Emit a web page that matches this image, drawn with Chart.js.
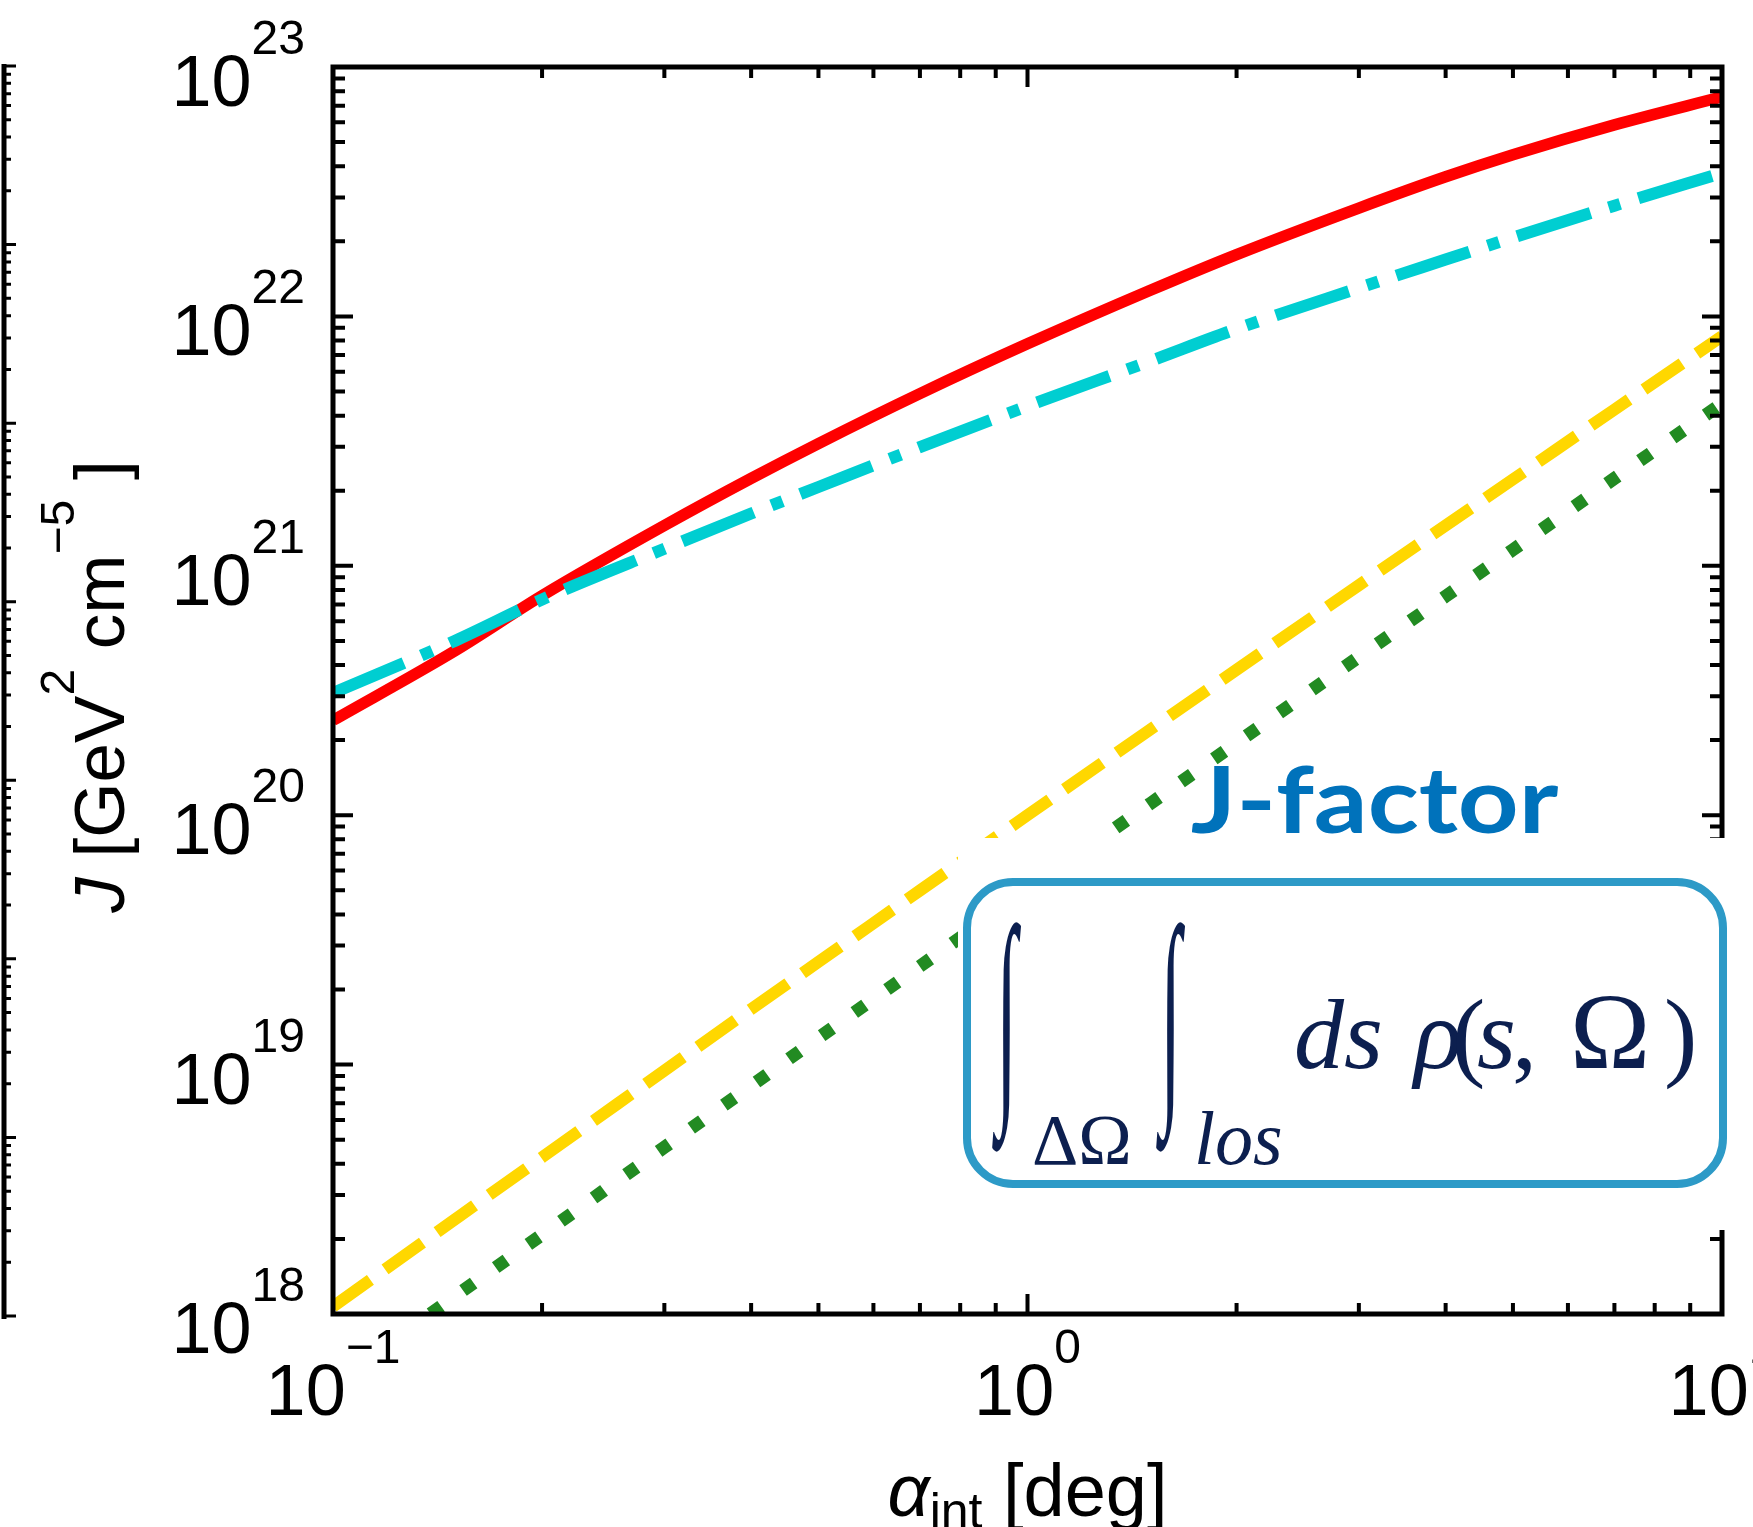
<!DOCTYPE html>
<html lang="en">
<head>
<meta charset="UTF-8">
<title>J-factor vs integration angle</title>
<script src="https://cdn.jsdelivr.net/npm/chart.js"></script>
<style>
  html, body { margin: 0; padding: 0; background: #fff; overflow: hidden; }
  #c { display: block; }
</style>
</head>
<body>
<canvas id="c" width="1753" height="1527"></canvas>
<script>
// alpha_int [deg] grid and J [GeV^2 cm^-5]
const alphaGrid = [0.1, 0.15, 0.2, 0.3, 0.4, 0.5, 0.7, 1, 1.5, 2, 3, 4, 5, 7, 10];

const jRed    = [2.40e20, 4.57e20, 7.59e20, 1.45e21, 2.24e21, 3.09e21, 4.90e21, 7.76e21, 1.27e22, 1.77e22, 2.72e22, 3.63e22, 4.45e22, 5.86e22, 7.59e22];
const jCyan   = [3.09e20, 5.01e20, 7.33e20, 1.17e21, 1.62e21, 2.07e21, 2.99e21, 4.37e21, 6.61e21, 8.91e21, 1.30e22, 1.69e22, 2.07e22, 2.78e22, 3.76e22];
const jYellow = [1.07e18, 2.40e18, 4.25e18, 9.46e18, 1.67e19, 2.58e19, 4.99e19, 1.00e20, 2.20e20, 3.83e20, 8.36e20, 1.45e21, 2.22e21, 4.23e21, 8.32e21];
const jGreen  = [5.25e17, 1.18e18, 2.08e18, 4.66e18, 8.22e18, 1.28e19, 2.48e19, 5.01e19, 1.11e20, 1.95e20, 4.31e20, 7.55e20, 1.16e21, 2.24e21, 4.47e21];

// decade ticks and their exponents
const xDecades   = [0.1, 1, 10];
const xExponents = ['\u22121', '0', '1'];
const yDecades   = [1e18, 1e19, 1e20, 1e21, 1e22, 1e23];
const yExponents = ['18', '19', '20', '21', '22', '23'];

const SANS = "'Liberation Sans', Arial, sans-serif";
const SERIF = "'Liberation Serif', 'Times New Roman', serif";
const NAVY = '#0c1f4f';

function series(xs, ys) {
    return xs.map((a, i) => ({ x: a, y: ys[i] }));
}

// minor tick values (2..9 x decade) between the decades
function minorTicks(decades) {
    const out = [];
    for (let i = 0; i < decades.length - 1; i++) {
        for (let m = 2; m <= 9; m++) out.push(m * decades[i]);
    }
    return out;
}

// draw a run of text pieces with different fonts / offsets
function drawParts(ctx, parts, x, y, align) {
    let total = 0;
    parts.forEach(p => { ctx.font = p.font; p.w = ctx.measureText(p.t).width; total += p.w; });
    let cx = align === 'center' ? x - total / 2 : align === 'right' ? x - total : x;
    ctx.textAlign = 'left';
    parts.forEach(p => {
        ctx.font = p.font;
        ctx.fillText(p.t, cx, y + (p.dy || 0));
        cx += p.w;
    });
}

// stretch a glyph so that its ink fills a given box
function fitGlyph(ctx, t, font, left, top, right, bottom) {
    ctx.font = font;
    const m = ctx.measureText(t);
    const w = m.actualBoundingBoxLeft + m.actualBoundingBoxRight;
    const h = m.actualBoundingBoxAscent + m.actualBoundingBoxDescent;
    ctx.save();
    ctx.translate(left, top);
    ctx.scale((right - left) / w, (bottom - top) / h);
    ctx.textAlign = 'left';
    ctx.textBaseline = 'alphabetic';
    ctx.fillText(t, m.actualBoundingBoxLeft, m.actualBoundingBoxAscent);
    ctx.restore();
}

const axesPlugin = {
    id: 'axesPlugin',
    afterDraw(chart) {
        const ctx = chart.ctx;
        const a = chart.chartArea;
        const x = chart.scales.x, y = chart.scales.y;
        ctx.save();
        ctx.strokeStyle = '#000';
        ctx.fillStyle = '#000';

        // frame
        ctx.lineWidth = 5;
        ctx.strokeRect(a.left, a.top, a.right - a.left, a.bottom - a.top);

        // inward ticks on all four sides
        ctx.lineWidth = 4;
        ctx.beginPath();
        const tick = (px, len, horiz) => {
            if (horiz) {
                ctx.moveTo(a.left, px); ctx.lineTo(a.left + len, px);
                ctx.moveTo(a.right, px); ctx.lineTo(a.right - len, px);
            } else {
                ctx.moveTo(px, a.bottom); ctx.lineTo(px, a.bottom - len);
                ctx.moveTo(px, a.top); ctx.lineTo(px, a.top + len);
            }
        };
        yDecades.forEach(v => tick(y.getPixelForValue(v), 20, true));
        minorTicks(yDecades).forEach(v => tick(y.getPixelForValue(v), 12, true));
        xDecades.forEach(v => tick(x.getPixelForValue(v), 20, false));
        minorTicks(xDecades).forEach(v => tick(x.getPixelForValue(v), 11, false));
        ctx.stroke();

        // edge of the neighbouring panel on the left
        ctx.lineWidth = 5;
        ctx.beginPath();
        ctx.moveTo(4, 64); ctx.lineTo(4, 1319);
        ctx.stroke();
        ctx.lineWidth = 3;
        ctx.beginPath();
        const dec = (1316 - 66) / 7;
        for (let k = 0; k <= 7; k++) {
            const base = 66 + k * dec;
            ctx.moveTo(4, base); ctx.lineTo(16, base);
            if (k < 7) {
                for (let m = 2; m <= 9; m++) {
                    const py = base + dec - Math.log10(m) * dec;
                    ctx.moveTo(4, py); ctx.lineTo(11, py);
                }
            }
        }
        ctx.stroke();

        // tick labels
        ctx.textBaseline = 'alphabetic';
        yDecades.forEach((v, i) => {
            const py = y.getPixelForValue(v);
            ctx.font = '48px ' + SANS;
            const we = ctx.measureText(yExponents[i]).width;
            ctx.textAlign = 'right';
            ctx.fillText(yExponents[i], 305, py - 13);
            ctx.font = '72px ' + SANS;
            ctx.fillText('10', 305 - we, py + 39);
        });
        xDecades.forEach((v, i) => {
            const px = x.getPixelForValue(v);
            ctx.font = '72px ' + SANS;
            const w10 = ctx.measureText('10').width;
            ctx.font = '48px ' + SANS;
            const we = ctx.measureText(xExponents[i]).width;
            const left = px - (w10 + we) / 2;
            ctx.textAlign = 'left';
            ctx.font = '72px ' + SANS;
            ctx.fillText('10', left, a.bottom + 101);
            ctx.font = '48px ' + SANS;
            ctx.fillText(xExponents[i], left + w10, a.bottom + 49);
        });

        // axis titles
        drawParts(ctx, [
            { t: '\u03b1', font: 'italic 74px ' + SANS },
            { t: 'int', font: '50px ' + SANS, dy: 12 },
            { t: ' [deg]', font: '74px ' + SANS }
        ], (a.left + a.right) / 2, 1516, 'center');

        ctx.save();
        ctx.translate(124, (a.top + a.bottom) / 2 - 4);
        ctx.rotate(-Math.PI / 2);
        drawParts(ctx, [
            { t: 'J', font: 'italic 71px ' + SANS },
            { t: ' [GeV', font: '71px ' + SANS },
            { t: '2', font: '48px ' + SANS, dy: -50 },
            { t: ' cm', font: '71px ' + SANS },
            { t: '\u22125', font: '48px ' + SANS, dy: -50 },
            { t: ' ]', font: '71px ' + SANS }
        ], 0, 0, 'center');
        ctx.restore();

        // pasted J-factor inset: white patch, rounded box, formula
        ctx.fillStyle = '#fff';
        ctx.fillRect(958, 838, 800, 392);
        ctx.lineWidth = 8;
        ctx.strokeStyle = '#2d9ac7';
        ctx.beginPath();
        ctx.roundRect(967, 882, 756, 302, 46);
        ctx.stroke();

        ctx.fillStyle = NAVY;
        fitGlyph(ctx, '\u222b', 'bold 200px ' + SERIF, 992, 922, 1021, 1152);
        fitGlyph(ctx, '\u222b', 'bold 200px ' + SERIF, 1156, 922, 1185, 1152);
        ctx.textAlign = 'left';
        ctx.font = '72px ' + SERIF;
        ctx.fillText('\u0394\u03a9', 1032, 1164);
        ctx.font = 'italic 76px ' + SERIF;
        ctx.fillText('los', 1194, 1164);
        const it = 'italic 100px ' + SERIF, up = '100px ' + SERIF;
        [
            ['ds', it, 1294], ['\u03c1', it, 1414], ['(', up, 1452], ['s', it, 1477],
            [',', up, 1512], ['\u03a9', '108px ' + SERIF, 1570], [')', up, 1664]
        ].forEach(([t, f, px]) => { ctx.font = f; ctx.fillText(t, px, 1068); });

        // title above the inset, stretched to the width it has in the figure
        ctx.fillStyle = '#0072bb';
        ctx.font = 'bold 92px Lato, sans-serif';
        const tm = ctx.measureText('J-factor');
        const inkW = tm.actualBoundingBoxLeft + tm.actualBoundingBoxRight;
        ctx.save();
        ctx.translate(1192, 833);
        ctx.scale(366 / inkW, 1);
        ctx.fillText('J-factor', tm.actualBoundingBoxLeft, 0);
        ctx.restore();

        ctx.restore();
    }
};

const common = {
    pointRadius: 0,
    fill: false,
    cubicInterpolationMode: 'monotone',
    borderCapStyle: 'butt',
    clip: 0
};

new Chart(document.getElementById('c'), {
    type: 'line',
    data: {
        datasets: [
            Object.assign({ data: series(alphaGrid, jCyan), borderColor: '#00ced1', borderWidth: 12, borderDash: [77, 19, 12, 19] }, common),
            Object.assign({ data: series(alphaGrid, jRed), borderColor: '#ff0000', borderWidth: 11.5 }, common),
            Object.assign({ data: series(alphaGrid, jYellow), borderColor: '#ffd700', borderWidth: 12, borderDash: [46, 18] }, common),
            Object.assign({ data: series(alphaGrid, jGreen), borderColor: '#228b22', borderWidth: 13, borderDash: [13, 27] }, common)
        ]
    },
    options: {
        responsive: false,
        animation: false,
        events: [],
        layout: { padding: { left: 333, top: 67, right: 31, bottom: 213 } },
        plugins: { legend: { display: false }, tooltip: { enabled: false } },
        scales: {
            x: { type: 'logarithmic', min: 0.1, max: 10, display: false },
            y: { type: 'logarithmic', min: 1e18, max: 1e23, display: false }
        }
    },
    plugins: [axesPlugin]
});
</script>
</body>
</html>
